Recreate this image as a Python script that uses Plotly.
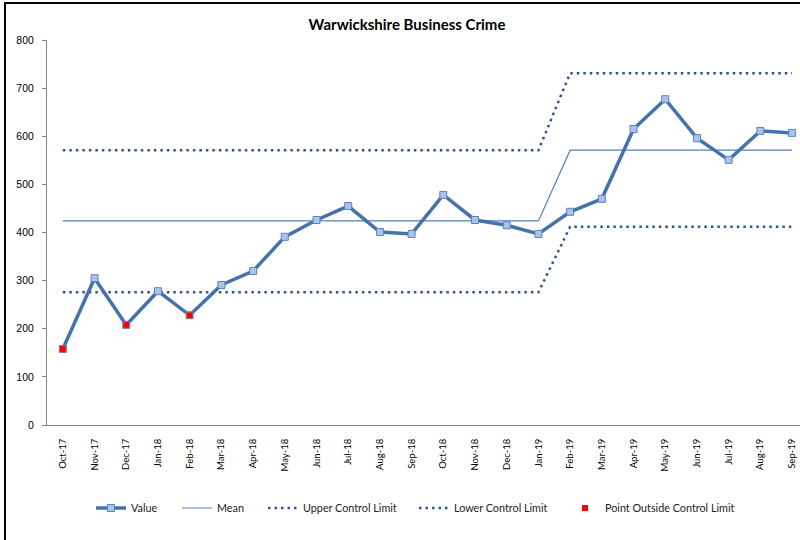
import plotly.graph_objects as go

# Monthly business crime counts with SPC mean and control limits
months = ["Oct-17", "Nov-17", "Dec-17", "Jan-18", "Feb-18", "Mar-18", "Apr-18", "May-18",
          "Jun-18", "Jul-18", "Aug-18", "Sep-18", "Oct-18", "Nov-18", "Dec-18", "Jan-19",
          "Feb-19", "Mar-19", "Apr-19", "May-19", "Jun-19", "Jul-19", "Aug-19", "Sep-19"]
crimes = [158, 305, 208, 278, 228, 291, 320, 391, 426, 455, 401, 397,
          478, 426, 415, 397, 443, 470, 615, 677, 596, 551, 611, 607]
mean = [424, 424, 424, 424, 424, 424, 424, 424, 424, 424, 424, 424,
        424, 424, 424, 424, 571, 571, 571, 571, 571, 571, 571, 571]
ucl = [571, 571, 571, 571, 571, 571, 571, 571, 571, 571, 571, 571,
       571, 571, 571, 571, 731, 731, 731, 731, 731, 731, 731, 731]
lcl = [276, 276, 276, 276, 276, 276, 276, 276, 276, 276, 276, 276,
       276, 276, 276, 276, 412, 412, 412, 412, 412, 412, 412, 412]

# Points that fall beyond either control limit
outside = [v if (v > u or v < l) else None for v, u, l in zip(crimes, ucl, lcl)]

LINE_BLUE = "#4472AA"
MEAN_BLUE = "#4F81BD"
LIMIT_BLUE = "#2B5594"
TEXT_FONT = "Lato"

# Plot area geometry (pixels) used to place the legend row
PLOT_LEFT, PLOT_WIDTH = 47, 753
PLOT_BOTTOM, PLOT_HEIGHT = 425, 385


def px_x(px):
    return (px - PLOT_LEFT) / PLOT_WIDTH


def px_y(py):
    return (PLOT_BOTTOM - py) / PLOT_HEIGHT


fig = go.Figure()

fig.add_trace(go.Scatter(
    x=months, y=mean, name="Mean", mode="lines", legend="legend2",
    line=dict(color=MEAN_BLUE, width=1.2)))
fig.add_trace(go.Scatter(
    x=months, y=ucl, name="Upper Control Limit", mode="lines", legend="legend3",
    line=dict(color=LIMIT_BLUE, width=2.5, dash="2.5px,4px")))
fig.add_trace(go.Scatter(
    x=months, y=lcl, name="Lower Control Limit", mode="lines", legend="legend4",
    line=dict(color=LIMIT_BLUE, width=2.5, dash="2.5px,4px")))
fig.add_trace(go.Scatter(
    x=months, y=crimes, name="Value", mode="lines+markers", legend="legend",
    line=dict(color=LINE_BLUE, width=3.5),
    marker=dict(symbol="square", size=7, color="#A9C4E8",
                line=dict(color="#5B84BE", width=1))))
fig.add_trace(go.Scatter(
    x=months, y=outside, name="Point Outside Control Limit", mode="markers",
    legend="legend5",
    marker=dict(symbol="square", size=6, color="#FF0000", line=dict(width=0))))

# One legend box per entry so each item sits at its own spot along the row
legend_font = dict(family=TEXT_FONT, size=10.8, color="#222222")
legend_text_starts = [131, 217, 303, 454, 605]
legend_row_y = 508
legends = {}
for i, tx in enumerate(legend_text_starts):
    key = "legend" if i == 0 else f"legend{i + 1}"
    legends[key] = dict(orientation="h", x=px_x(tx - 40), xanchor="left",
                        y=px_y(legend_row_y), yanchor="middle",
                        font=legend_font, itemwidth=30,
                        bgcolor="rgba(0,0,0,0)", borderwidth=0)

fig.update_layout(
    width=800, height=540,
    margin=dict(l=PLOT_LEFT, r=0, t=40, b=115),
    paper_bgcolor="white", plot_bgcolor="white",
    title=dict(text="<b>Warwickshire Business Crime</b>", x=407 / 800, xanchor="center",
               xref="container", y=1 - 25 / 540, yanchor="middle", yref="container",
               font=dict(family=TEXT_FONT, size=15, color="#000000")),
    showlegend=True,
    **legends,
    xaxis=dict(type="category", range=[-0.5, 23.25], showgrid=False, zeroline=False,
               showline=True, linecolor="#868686", linewidth=1, ticks="",
               tickangle=-90, ticklabelstandoff=9,
               tickfont=dict(family=TEXT_FONT, size=9.5, color="#000000")),
    yaxis=dict(range=[0, 800], dtick=100, showgrid=False, zeroline=False,
               showline=True, linecolor="#868686", linewidth=1,
               ticks="outside", ticklen=4, tickcolor="#868686", ticklabelstandoff=6,
               tickfont=dict(family="Liberation Sans, Arial", size=10.5, color="#000000")),
    shapes=[dict(type="rect", xref="paper", yref="paper",
                 x0=px_x(5), x1=1.1, y0=-0.4, y1=px_y(3),
                 line=dict(color="#000000", width=2), fillcolor="rgba(0,0,0,0)",
                 layer="above")],
)

fig.write_html("out.html")
